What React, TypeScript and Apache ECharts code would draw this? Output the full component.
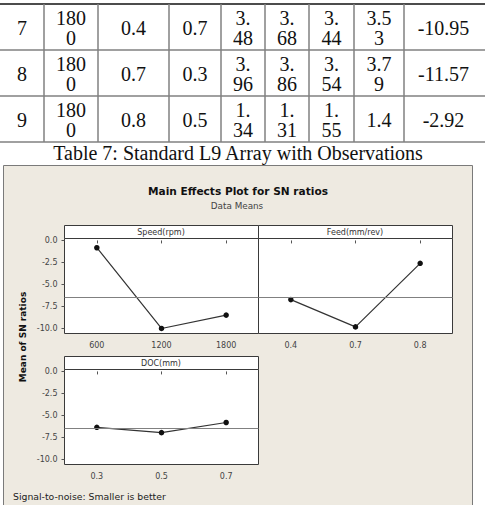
import React, { useEffect, useRef } from "react";
import * as echarts from "echarts";

// ---- Table data (rows 7-9 of the L9 array) ----
const tableTrial = ["7", "8", "9"];
const tableSpeed = ["1800", "1800", "1800"];
const tableFeed = ["0.4", "0.7", "0.8"];
const tableDoc = ["0.7", "0.3", "0.5"];
const tableObs1 = ["3.48", "3.96", "1.34"];
const tableObs2 = ["3.68", "3.86", "1.31"];
const tableObs3 = ["3.44", "3.54", "1.55"];
const tableObsMean = ["3.53", "3.79", "1.4"];
const tableSN = ["-10.95", "-11.57", "-2.92"];
const tableCaption = "Table 7: Standard L9 Array with Observations";

// ---- Main effects data ----
const chartTitle = "Main Effects Plot for SN ratios";
const chartSubtitle = "Data Means";
const yAxisTitle = "Mean of SN ratios";
const footNote = "Signal-to-noise: Smaller is better";
const speedName = "Speed(rpm)";
const speedLevels = ["600", "1200", "1800"];
const speedSN = [-0.83, -10.0, -8.48];
const feedName = "Feed(mm/rev)";
const feedLevels = ["0.4", "0.7", "0.8"];
const feedSN = [-6.72, -9.82, -2.6];
const docName = "DOC(mm)";
const docLevels = ["0.3", "0.5", "0.7"];
const docSN = [-6.35, -6.95, -5.8];
const grandMean = -6.45;
const yTicks = [0, -2.5, -5, -7.5, -10];

const SANS = "DejaVu Sans";
const SERIF = "Liberation Serif";

function wrap(s: string, n: number) {
  if (!n || s.length <= n) return s;
  const parts: string[] = [];
  for (let i = 0; i < s.length; i += n) parts.push(s.slice(i, i + n));
  return parts.join("\n");
}

export default function App() {
  const ref = useRef<HTMLDivElement>(null);
  useEffect(() => {
    if (!ref.current) return;
    const chart = echarts.init(ref.current, undefined, { renderer: "svg" });

    const columns = [tableTrial, tableSpeed, tableFeed, tableDoc, tableObs1, tableObs2, tableObs3, tableObsMean, tableSN];
    const colEdges = [0, 44, 98, 169, 221, 265, 309, 354, 404, 483];
    const colWrap = [0, 3, 0, 0, 2, 2, 2, 3, 0];
    const rowEdges = [4, 50, 96, 142];

    const serif = (size: number) => ({ fontSize: size, fontFamily: SERIF, fontWeight: "normal" });
    const sans = (size: number, bold = false) => ({ fontSize: size, fontFamily: SANS, fontWeight: bold ? "bold" : "normal" });

    const graphics: any[] = [];
    graphics.push({ type: "line", shape: { x1: 0, y1: rowEdges[0], x2: 485, y2: rowEdges[0] }, style: { stroke: "#111", lineWidth: 1.5 } });
    for (let r = 1; r < rowEdges.length; r++) {
      graphics.push({ type: "line", shape: { x1: 0, y1: rowEdges[r], x2: 485, y2: rowEdges[r] }, style: { stroke: "#808080", lineWidth: 1.5 } });
    }
    for (let c = 1; c < colEdges.length - 1; c++) {
      graphics.push({ type: "line", shape: { x1: colEdges[c], y1: rowEdges[0], x2: colEdges[c], y2: rowEdges[rowEdges.length - 1] }, style: { stroke: "#808080", lineWidth: 1.5 } });
    }
    columns.forEach((col, c) => {
      col.forEach((v, r) => {
        graphics.push({
          type: "text",
          x: (colEdges[c] + colEdges[c + 1]) / 2,
          y: (rowEdges[r] + rowEdges[r + 1]) / 2 + 1,
          style: { text: wrap(v, colWrap[c]), ...serif(20), fill: "#111", align: "center", verticalAlign: "middle", lineHeight: 20 },
        });
      });
    });
    graphics.push({ type: "text", x: 238, y: 153, style: { text: tableCaption, ...serif(20), fill: "#111", align: "center", verticalAlign: "middle" } });

    graphics.push({ type: "rect", z: -10, shape: { x: 3.5, y: 165.5, width: 469, height: 400 }, style: { fill: "#EEEAE1", stroke: "#7a7a7a", lineWidth: 1 } });
    graphics.push({ type: "text", x: 238, y: 191, style: { text: chartTitle, ...sans(10.6, true), fill: "#111", align: "center", verticalAlign: "middle" } });
    graphics.push({ type: "text", x: 237, y: 206, style: { text: chartSubtitle, ...sans(8.8), fill: "#444", align: "center", verticalAlign: "middle" } });
    graphics.push({ type: "text", x: 23, y: 337, rotation: Math.PI / 2, style: { text: yAxisTitle, ...sans(9, true), fill: "#111", align: "center", verticalAlign: "middle" } });
    graphics.push({ type: "text", x: 13, y: 496, style: { text: footNote, ...sans(9.3), fill: "#222", align: "left", verticalAlign: "middle" } });

    const headers = [
      { name: speedName, x: 64, y: 225, w: 194 },
      { name: feedName, x: 258, y: 225, w: 194 },
      { name: docName, x: 64, y: 356, w: 194 },
    ];
    headers.forEach((h) => {
      graphics.push({ type: "rect", shape: { x: h.x + 0.5, y: h.y + 0.5, width: h.w, height: 13 }, style: { fill: "#fff", stroke: "#3a3a3a", lineWidth: 1 } });
      graphics.push({ type: "text", x: h.x + h.w / 2, y: h.y + 7, style: { text: h.name, ...sans(8), fill: "#333", align: "center", verticalAlign: "middle" } });
    });

    const gridBase = { show: true, backgroundColor: "#fff", borderColor: "#3a3a3a", borderWidth: 1, containLabel: false };
    const yBase = (gi: number, labels: boolean) => ({
      type: "value",
      gridIndex: gi,
      min: -10.57,
      max: 0.22,
      axisLine: { show: false },
      splitLine: { show: false },
      axisTick: { show: labels, length: 3, lineStyle: { color: "#555" }, customValues: yTicks },
      axisLabel: { show: labels, fontSize: 8, fontFamily: SANS, color: "#444", margin: 7, customValues: yTicks, formatter: (v: number) => v.toFixed(1) },
    });
    const xBase = (gi: number, data: string[]) => ({
      type: "category",
      gridIndex: gi,
      data,
      boundaryGap: true,
      axisLine: { show: false },
      axisTick: { show: true, alignWithLabel: true, length: 3, lineStyle: { color: "#555" } },
      axisLabel: { fontSize: 8, fontFamily: SANS, color: "#444", margin: 8 },
      splitLine: { show: false },
    });
    const seriesBase = (gi: number, data: number[]) => ({
      type: "line",
      xAxisIndex: gi,
      yAxisIndex: gi,
      data,
      symbol: "circle",
      symbolSize: 5.5,
      itemStyle: { color: "#111" },
      lineStyle: { color: "#333", width: 1.2 },
      markLine: { silent: true, symbol: "none", label: { show: false }, lineStyle: { color: "#808080", width: 1, type: "solid" }, data: [{ yAxis: grandMean }] },
    });

    chart.setOption({
      animation: false,
      grid: [
        { ...gridBase, left: 64.5, top: 238.5, width: 194, height: 95 },
        { ...gridBase, left: 258.5, top: 238.5, width: 194, height: 95 },
        { ...gridBase, left: 64.5, top: 369.5, width: 194, height: 95 },
      ],
      xAxis: [xBase(0, speedLevels), xBase(1, feedLevels), xBase(2, docLevels)],
      yAxis: [yBase(0, true), yBase(1, false), yBase(2, true)],
      series: [seriesBase(0, speedSN), seriesBase(1, feedSN), seriesBase(2, docSN)],
      graphic: graphics,
    });
    return () => chart.dispose();
  }, []);
  return <div ref={ref} style={{ position: "absolute", left: 0, top: 0, width: 485, height: 505 }} />;
}
